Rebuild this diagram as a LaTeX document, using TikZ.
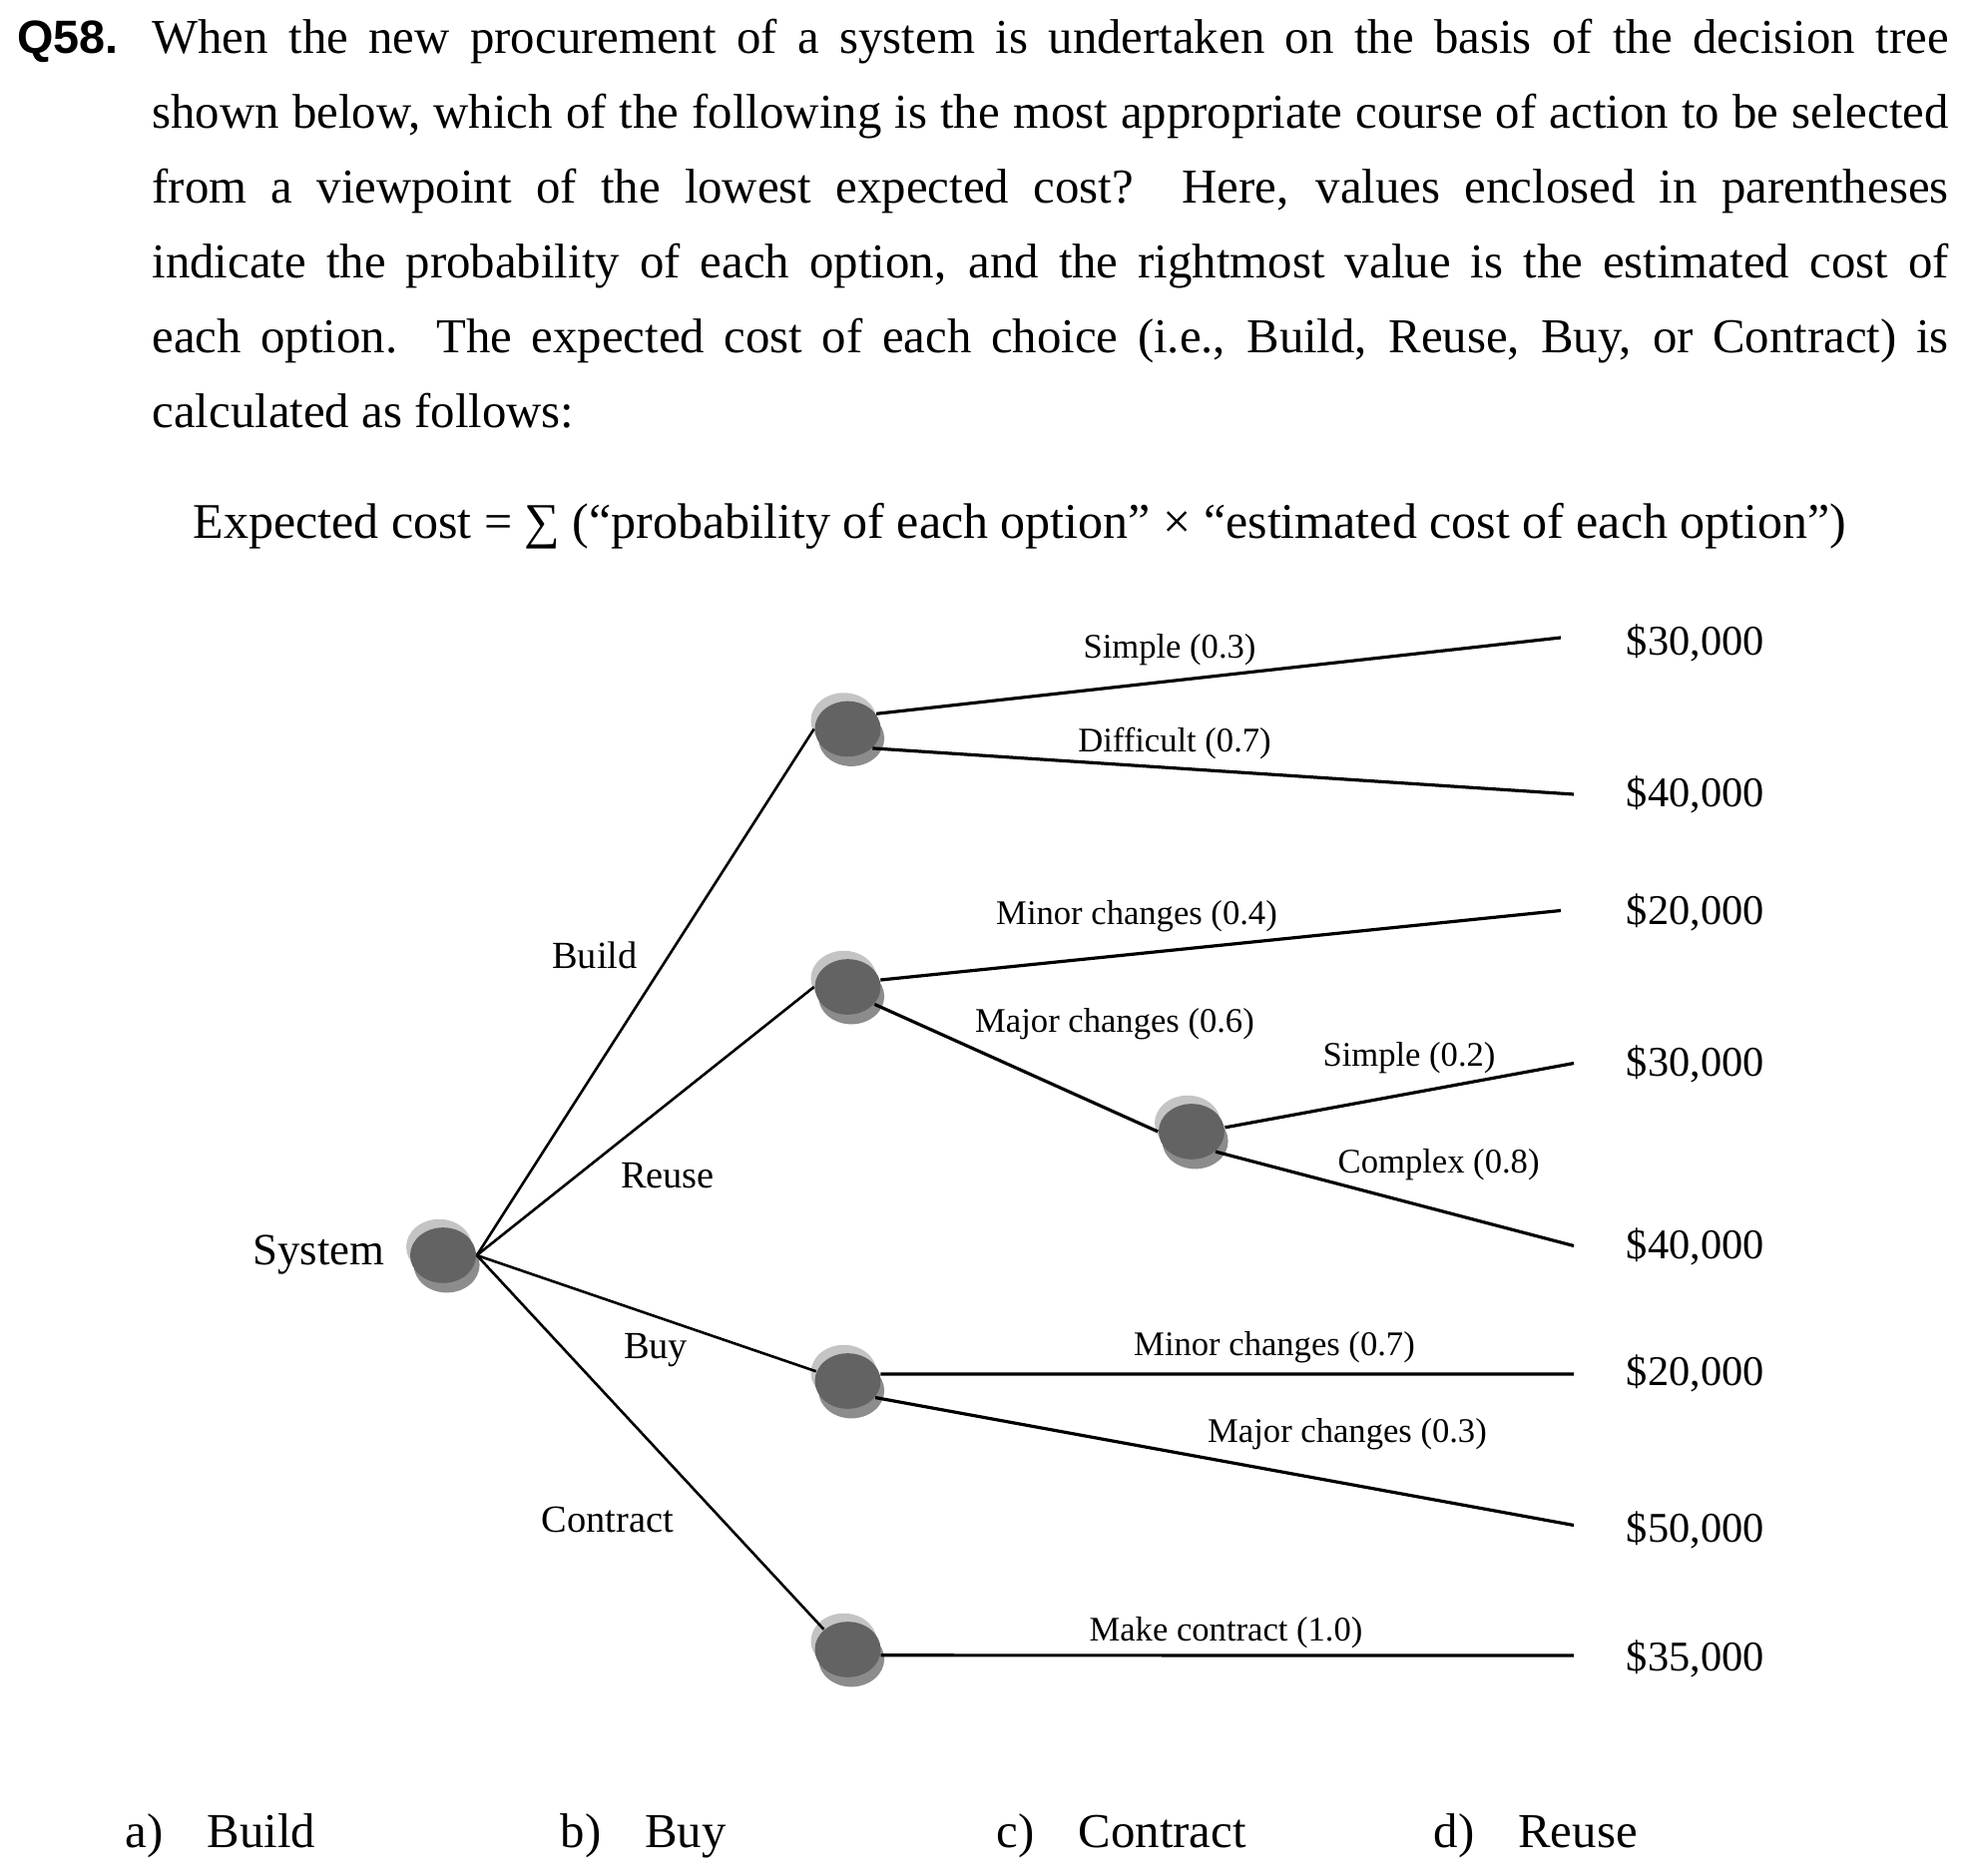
\documentclass[tikz,border=0pt]{standalone}
\usepackage{fontspec}
\setmainfont{Liberation Serif}
\newfontfamily\qfont{Liberation Sans}
\usepackage{tikz}
\usetikzlibrary{shapes.geometric,shadows,positioning}
\definecolor{chancedark}{gray}{0.39}
\definecolor{chancelight}{gray}{0.77}
\definecolor{chancemid}{gray}{0.55}

\begin{document}
\begin{tikzpicture}[x=0.25pt,y=-0.25pt,node distance=6pt,
    chance/.style={ellipse,fill=chancedark,minimum width=16.5pt,minimum height=13.9pt,inner sep=0pt,
        general shadow={fill=chancelight,shadow xshift=-1pt,shadow yshift=2.1pt},
        general shadow={fill=chancemid,shadow xshift=0.9pt,shadow yshift=-2.4pt}},
    branch/.style={line width=0.65pt},
    outcome/.style={line width=0.8pt},
    choice/.style={inner sep=0pt,font=\fontsize{9.6}{11}\selectfont},
    prob/.style={inner sep=0pt,font=\fontsize{8.65}{10}\selectfont},
    cost/.style={inner sep=0pt,anchor=west,font=\fontsize{10.6}{12}\selectfont},
    answer/.style={inner sep=0pt,anchor=base west,font=\fontsize{12.2}{14}\selectfont}]
    \useasboundingbox (0,0) rectangle (1972,1880);

    \node[anchor=base west,inner sep=0pt,font=\qfont\bfseries\fontsize{11.7}{14}\selectfont] (qnum) at (16.7,53.3) {Q58.};
    \node[anchor=base west,inner sep=0pt,text width=450pt,align=justify,font=\fontsize{12.2}{18.75}\selectfont] (question) at (151.7,53.3)
        {\tolerance=10000 When the new procurement of a system is undertaken on the basis of the decision tree\linebreak
        shown below, which of the following is the most appropriate course of action to be selected\linebreak
        from a viewpoint of the lowest expected cost?\ \ Here, values enclosed in parentheses\linebreak
        indicate the probability of each option, and the rightmost value is the estimated cost of\linebreak
        each option.\ \ The expected cost of each choice (i.e., Build, Reuse, Buy, or Contract) is\linebreak
        calculated as follows:};
    \node[anchor=base west,inner sep=0pt,font=\fontsize{12.5}{14}\selectfont] (formula) at (192.7,539.3)
        {Expected cost = ∑ (“probability of each option” × “estimated cost of each option”)};

    \node[chance] (S) at (444,1258) {};
    \node[chance] (B) at (849.5,730.5) {};
    \node[chance] (R) at (849.5,989) {};
    \node[chance] (M) at (1194,1134) {};
    \node[chance] (U) at (849.5,1384) {};
    \node[chance] (C) at (849.5,1653) {};
    \node[inner sep=0pt,font=\fontsize{11.2}{13}\selectfont] (sys) [left=6pt of S] {System};

    \coordinate (eA) at (1564,639);
    \coordinate (eB) at (1577,796);
    \coordinate (eC) at (1564,912.5);
    \coordinate (eD) at (1577,1065.5);
    \coordinate (eE) at (1577,1248.5);
    \coordinate (eF) at (1577,1377);
    \coordinate (eG) at (1577,1528.5);
    \coordinate (eH) at (1577,1659);

    \draw[branch] (S.east) -- (B.west);
    \draw[branch] (S.east) -- (R.west);
    \draw[branch] (S.east) -- (U.163);
    \draw[branch] (S.east) -- (C.140);
    \draw[outcome] (B.28) -- (eA);
    \draw[outcome] (B.-38) -- (eB);
    \draw[outcome] (R.12) -- (eC);
    \draw[outcome] (R.-33) -- (M.west);
    \draw[outcome] (M.7) -- (eD);
    \draw[outcome] (M.-40) -- (eE);
    \draw[outcome] (U.12) -- (eF);
    \draw[outcome] (U.-31) -- (eG);
    \draw[outcome] (C.-10) -- (eH);

    \node[choice] (lBuild) at (596,957) {Build};
    \node[choice] (lReuse) at (669,1178.5) {Reuse};
    \node[choice] (lBuy) at (657,1353) {Buy};
    \node[choice] (lContract) at (609,1523) {Contract};

    \node[prob] (pSimpleA) at (1172,651) {Simple (0.3)};
    \node[prob] (pDifficult) at (1177,745) {Difficult (0.7)};
    \node[prob] (pMinorA) at (1139,918) {Minor changes (0.4)};
    \node[prob] (pMajorA) at (1117,1026) {Major changes (0.6)};
    \node[prob] (pSimpleB) at (1412,1060) {Simple (0.2)};
    \node[prob] (pComplex) at (1441.6,1167) {Complex (0.8)};
    \node[prob] (pMinorB) at (1277,1350.4) {Minor changes (0.7)};
    \node[prob] (pMajorB) at (1350,1437) {Major changes (0.3)};
    \node[prob] (pMake) at (1228.5,1635.7) {Make contract (1.0)};

    \node[cost] (cA) at (1629,644) {\$30,000};
    \node[cost] (cB) at (1629,796) {\$40,000};
    \node[cost] (cC) at (1629,914) {\$20,000};
    \node[cost] (cD) at (1629,1066) {\$30,000};
    \node[cost] (cE) at (1629,1249) {\$40,000};
    \node[cost] (cF) at (1629,1376) {\$20,000};
    \node[cost] (cG) at (1629,1533) {\$50,000};
    \node[cost] (cH) at (1629,1662) {\$35,000};

    \foreach \xa/\lt/\txt in {125/a/Build,561/b/Buy,998/c/Contract,1436/d/Reuse}
        \node[answer] (ans\lt) at (\xa,1851.7) {\lt)\hspace{11pt}\txt};
\end{tikzpicture}
\end{document}
